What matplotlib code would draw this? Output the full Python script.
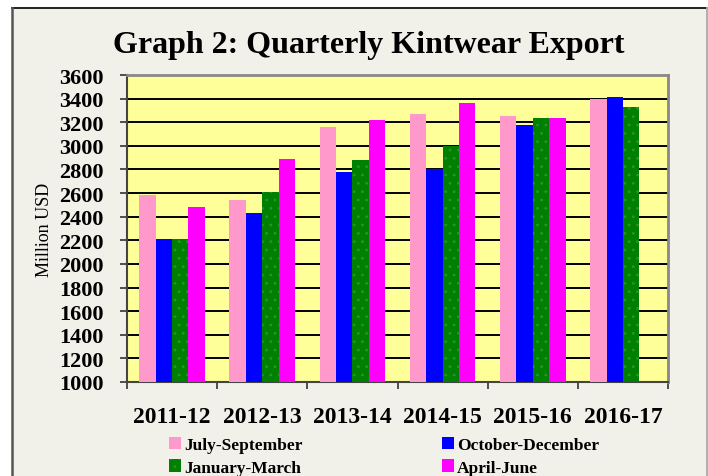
import numpy as np
import matplotlib
matplotlib.use("Agg")
import matplotlib.pyplot as plt
from matplotlib.patches import Rectangle
from matplotlib.lines import Line2D

# ---- data ----
categories = ["2011-12", "2012-13", "2013-14", "2014-15", "2015-16", "2016-17"]
series_names = ["July-September", "October-December", "January-March", "April-June"]
jul_sep = [2580, 2540, 3160, 3270, 3250, 3400]
oct_dec = [2210, 2430, 2780, 2800, 3180, 3410]
jan_mar = [2210, 2610, 2880, 3000, 3240, 3330]
apr_jun = [2480, 2890, 3220, 3360, 3240, np.nan]
y_ticks = list(range(1000, 3601, 200))

colors = ["#FF99CC", "#0000FF", "#008000", "#FF00FF"]
serif = ["Liberation Serif", "DejaVu Serif"]

plt.rcParams["hatch.linewidth"] = 0.8

W, H = 708, 477
fig = plt.figure(figsize=(7.08, 4.77), dpi=100, facecolor="white")
# outer frame background + borders
fig.patches.append(Rectangle((12 / W, 0), (707 - 12) / W, 1 - 9 / H,
                             transform=fig.transFigure, facecolor="#F1F0E9",
                             edgecolor="none", zorder=-10))
fig.lines.append(Line2D([12 / W, 707 / W], [1 - 9 / H, 1 - 9 / H], transform=fig.transFigure,
                        color="#111111", linewidth=1.3, zorder=-9))
fig.lines.append(Line2D([12 / W, 12 / W], [0, 1 - 9 / H], transform=fig.transFigure,
                        color="#555555", linewidth=1.8, zorder=-9))
fig.lines.append(Line2D([707 / W, 707 / W], [0, 1 - 9 / H], transform=fig.transFigure,
                        color="#aaaaaa", linewidth=1.3, zorder=-9))

ax = fig.add_axes([127 / W, 1 - 383 / H, 541 / W, 307 / H])
ax.set_facecolor("#FFFF99")

x = np.arange(len(categories))
w = 0.182
offsets = [-1.5 * w, -0.5 * w, 0.5 * w, 1.5 * w]
all_series = [jul_sep, oct_dec, jan_mar, apr_jun]
handles = []
for i, (vals, col, name) in enumerate(zip(all_series, colors, series_names)):
    if i == 2:
        b = ax.bar(x + offsets[i], vals, width=w, color=col, edgecolor="#2f902f",
                   linewidth=0, hatch="..", label=name, zorder=3)
    else:
        b = ax.bar(x + offsets[i], vals, width=w, color=col, linewidth=0,
                   label=name, zorder=3)
    handles.append(b)

ax.set_ylim(1000, 3600)
ax.set_xlim(-0.5, len(categories) - 0.5)
ax.set_yticks(y_ticks)
ax.set_yticklabels([str(v) for v in y_ticks], fontfamily=serif, fontweight="bold", fontsize=16)
ax.yaxis.grid(True, color="black", linewidth=1.4, zorder=1)
ax.set_axisbelow(True)

ax.set_xticks(np.arange(-0.5, len(categories), 1.0))
ax.set_xticklabels([])
ax.set_xticks(x, minor=True)
ax.set_xticklabels(categories, minor=True, fontfamily=serif, fontweight="bold", fontsize=17)
ax.tick_params(axis="x", which="minor", length=0, pad=17)
ax.tick_params(axis="x", which="major", length=5, width=1.2, color="#333333", direction="out")
ax.tick_params(axis="y", length=5, width=1.2, color="#333333", direction="out", pad=12)

for s in ["top", "right"]:
    ax.spines[s].set_color("#888888")
    ax.spines[s].set_linewidth(2)
for s in ["left", "bottom"]:
    ax.spines[s].set_color("#444444")
    ax.spines[s].set_linewidth(1.5)

ax.set_ylabel("Million USD", fontfamily=serif, fontsize=13, labelpad=4)

fig.text(0.521, 1 - 45 / H, "Graph 2: Quarterly Kintwear Export", ha="center", va="center",
         fontfamily=serif, fontweight="bold", fontsize=23)

order = [0, 2, 1, 3]
leg = fig.legend([handles[i] for i in order], [series_names[i] for i in order],
                 ncol=2, loc="upper left", bbox_to_anchor=(153 / W, 1 - 422 / H),
                 frameon=False, handlelength=0.7, handleheight=0.7, handletextpad=0.2,
                 columnspacing=8.0, labelspacing=0.38,
                 prop={"family": serif, "weight": "bold", "size": 12.5})

fig.savefig("out.png", dpi=100, facecolor="white")
